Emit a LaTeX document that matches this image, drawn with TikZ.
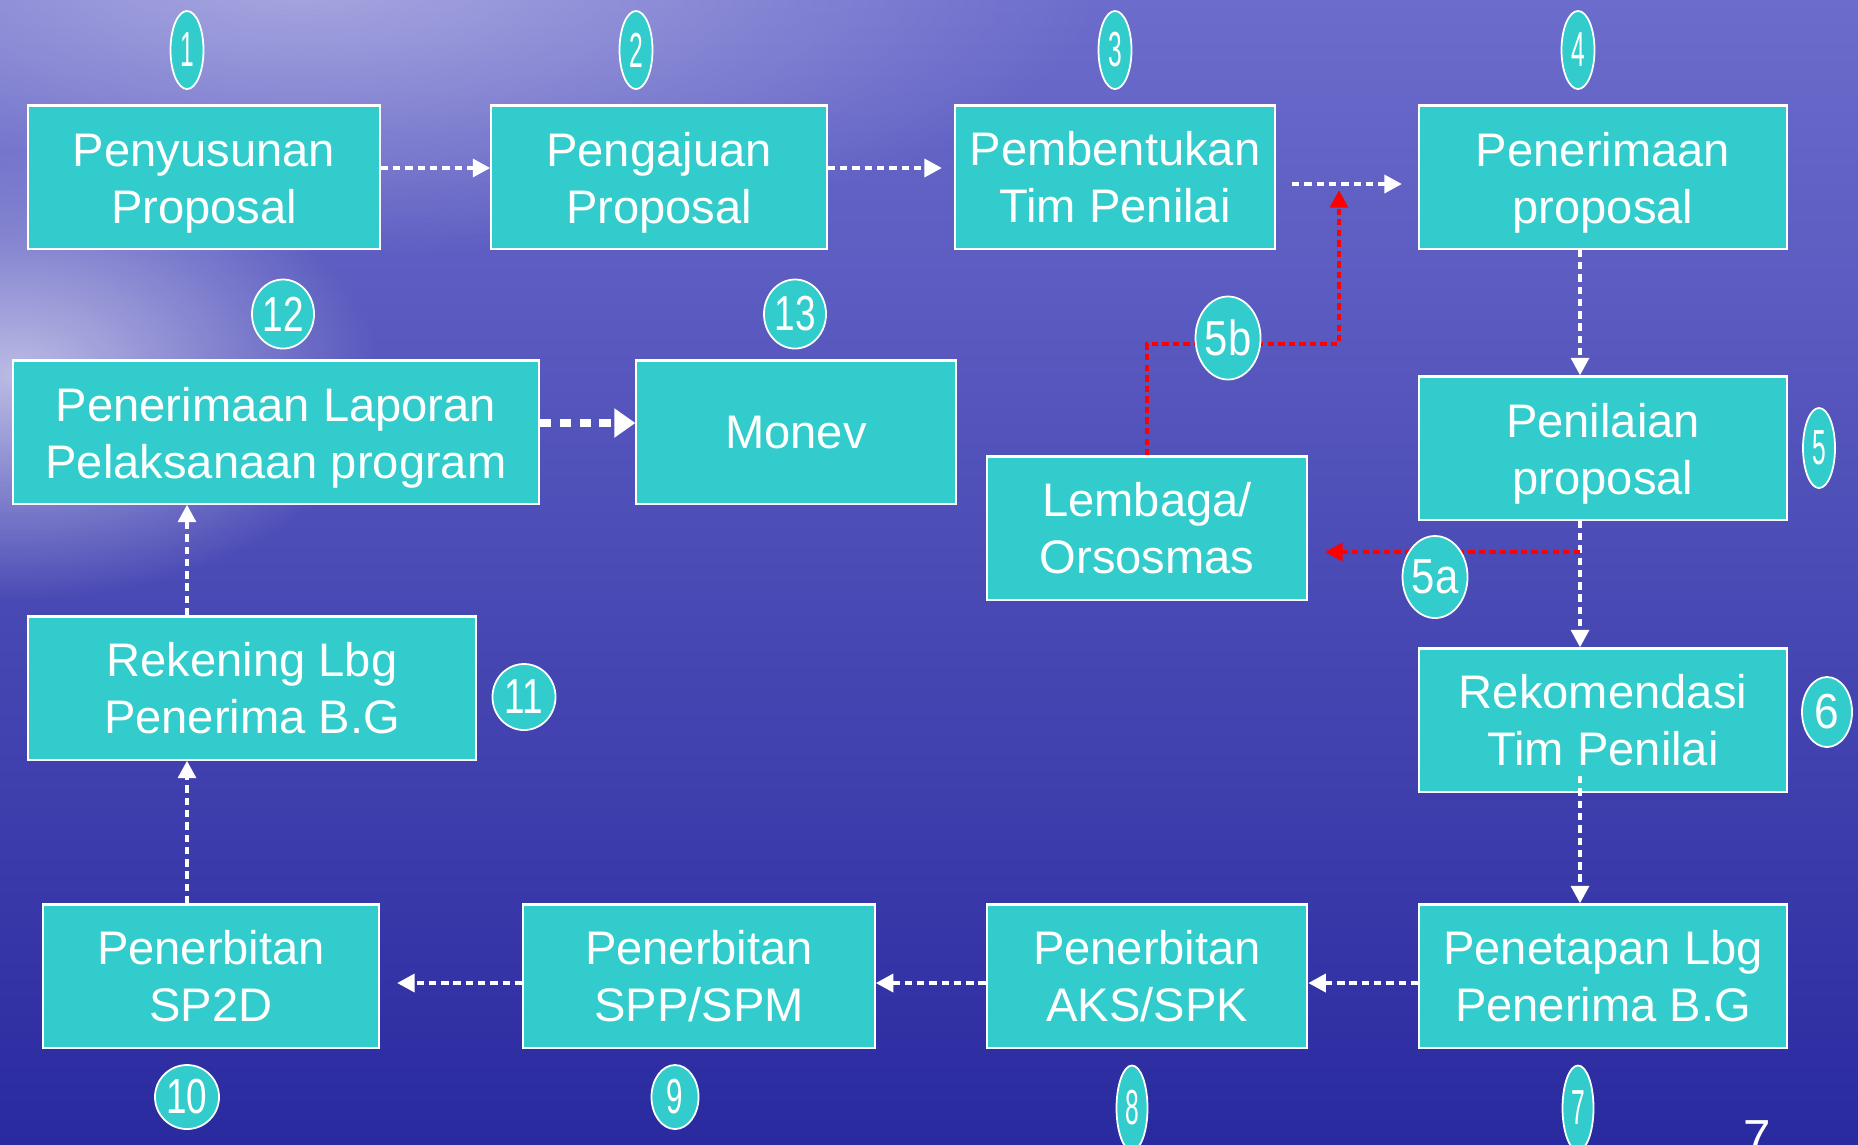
\documentclass[tikz,border=0pt]{standalone}
\usepackage{fontspec}
\usepackage{graphicx}
\setmainfont{Liberation Sans}
\usetikzlibrary{shapes.geometric,arrows.meta,fadings}

\definecolor{boxteal}{RGB}{51,204,204}
\definecolor{bgtop}{RGB}{108,108,204}
\definecolor{bgmid}{RGB}{66,66,182}
\definecolor{bgbot}{RGB}{42,42,160}
\definecolor{flowred}{RGB}{255,0,0}

\tikzfading[name=glowfade, inner color=transparent!0, outer color=transparent!100]
\newcommand{\numtxt}[2]{\makebox[0pt]{\scalebox{#1}[1]{#2}}}
\newcommand{\toppad}{\rule{0pt}{13pt}}

\begin{document}
\begin{tikzpicture}[x=0.01cm, y=-0.01cm, >={Triangle[width=5pt,length=5pt]}]
        \tikzstyle{block} = [draw=white, line width=0.6pt, fill=boxteal, text=white, align=center,
          inner sep=0pt, minimum height=1.43cm, font=\fontsize{13.4}{16.3}\selectfont]
        \tikzstyle{num} = [ellipse, draw=white, line width=0.5pt, fill=boxteal, text=white,
          inner sep=0pt, font=\fontsize{14}{14}\selectfont]
        \tikzstyle{flow} = [draw=white, line width=1.3pt, dash pattern=on 2.1pt off 1.4pt, ->]
        \tikzstyle{redflow} = [flow, draw=flowred, line width=1.4pt, dash pattern=on 1.8pt off 1.2pt]

        % background
        \useasboundingbox (0,0) rectangle (1858,1144);
        \shade[top color=bgtop, middle color=bgmid, bottom color=bgbot] (0,0) rectangle (1858,1144);
        \fill[white, opacity=0.4, path fading=glowfade] (-500,-300) rectangle (1100,260);
        \fill[white, opacity=0.6, path fading=glowfade] (-350,150) rectangle (380,600);

        % boxes
        \node[block, minimum width=3.51cm] (penyusunan) at (204,177) {\toppad Penyusunan\\Proposal};
        \node[block, minimum width=3.35cm] (pengajuan) at (659,177) {\toppad Pengajuan\\Proposal};
        \node[block, minimum width=3.20cm] (pembentukan) at (1115,177) {Pembentukan\\Tim Penilai};
        \node[block, minimum width=3.67cm] (penerimaan) at (1603,177) {\toppad Penerimaan\\proposal};
        \node[block, minimum width=3.67cm] (penilaian) at (1603,448) {\toppad Penilaian\\proposal};
        \node[block, minimum width=3.20cm] (lembaga) at (1147,528) {Lembaga/\\Orsosmas};
        \node[block, minimum width=3.67cm] (rekomendasi) at (1603,720) {Rekomendasi\\Tim Penilai};
        \node[block, minimum width=3.67cm] (penetapan) at (1603,976) {Penetapan Lbg\\Penerima B.G};
        \node[block, minimum width=3.20cm] (aks) at (1147,976) {Penerbitan\\AKS/SPK};
        \node[block, minimum width=3.51cm] (spp) at (699,976) {Penerbitan\\SPP/SPM};
        \node[block, minimum width=3.35cm] (sp2d) at (211,976) {Penerbitan\\SP2D};
        \node[block, minimum width=4.47cm] (rekening) at (252,688) {Rekening Lbg\\Penerima B.G};
        \node[block, minimum width=5.26cm] (laporan) at (276,432) {\toppad Penerimaan Laporan\\Pelaksanaan program};
        \node[block, minimum width=3.19cm] (monev) at (796,432) {Monev};

        % helper lines
        \coordinate (topline) at (0,168);
        \coordinate (t3) at (942,168);
        \coordinate (s4) at (1292,184);
        \coordinate (t4) at (1402,184);
        \coordinate (vline) at (1580,0);
        \coordinate (s7) at (1580,776);
        \coordinate (hline) at (0,983);
        \coordinate (t10) at (397,983);
        \coordinate (lline) at (187,0);
        \coordinate (monline) at (0,423);
        \coordinate (bend) at (1339,344);
        \coordinate (redtip) at (1339,190);
        \coordinate (split) at (1580,552);
        \coordinate (redtipa) at (1325,552);

        \draw[flow] (penyusunan.east |- topline) -- (pengajuan.west |- topline);
        \draw[flow] (pengajuan.east |- topline) -- (t3);
        \draw[flow] (s4) -- (t4);
        \draw[flow] (penerimaan.south -| vline) -- (penilaian.north -| vline);
        \draw[flow] (penilaian.south -| vline) -- (rekomendasi.north -| vline);
        \draw[flow] (s7) -- (penetapan.north -| vline);
        \draw[flow] (penetapan.west |- hline) -- (aks.east |- hline);
        \draw[flow] (aks.west |- hline) -- (spp.east |- hline);
        \draw[flow] (spp.west |- hline) -- (t10);
        \draw[flow] (sp2d.north -| lline) -- (rekening.south -| lline);
        \draw[flow] (rekening.north -| lline) -- (laporan.south -| lline);
        \draw[flow, line width=2.3pt, dash pattern=on 3.2pt off 2.4pt, >={Triangle[width=8pt,length=6pt]}]
          (laporan.east |- monline) -- (monev.west |- monline);

        \draw[redflow] (lembaga.north) |- (bend) -- (redtip);
        \draw[redflow] (split) -- (redtipa);

        % step numbers
        \node[num, minimum width=0.33cm, minimum height=0.78cm] (n1) at (187,50) {\numtxt{0.5}{1}};
        \node[num, minimum width=0.33cm, minimum height=0.78cm] (n2) at (636,50) {\numtxt{0.5}{2}};
        \node[num, minimum width=0.33cm, minimum height=0.78cm] (n3) at (1115,50) {\numtxt{0.5}{3}};
        \node[num, minimum width=0.33cm, minimum height=0.78cm] (n4) at (1578,50) {\numtxt{0.5}{4}};
        \node[num, minimum width=0.32cm, minimum height=0.80cm] (n5) at (1819,448) {\numtxt{0.5}{5}};
        \node[num, minimum width=0.65cm, minimum height=0.83cm] (n5b) at (1228,338) {\numtxt{0.85}{5b}};
        \node[num, minimum width=0.65cm, minimum height=0.82cm] (n5a) at (1435,577) {\numtxt{0.85}{5a}};
        \node[num, minimum width=0.50cm, minimum height=0.70cm] (n6) at (1827,712) {\numtxt{0.9}{6}};
        \node[num, minimum width=0.31cm, minimum height=0.85cm] (n7) at (1578,1108) {\numtxt{0.5}{7}};
        \node[num, minimum width=0.31cm, minimum height=0.85cm] (n8) at (1132,1108) {\numtxt{0.5}{8}};
        \node[num, minimum width=0.47cm, minimum height=0.64cm] (n9) at (675,1097) {\numtxt{0.6}{9}};
        \node[num, minimum width=0.64cm, minimum height=0.64cm] (n10) at (187,1097) {\numtxt{0.75}{10}};
        \node[num, minimum width=0.63cm, minimum height=0.66cm] (n11) at (524,697) {\numtxt{0.75}{11}};
        \node[num, minimum width=0.62cm, minimum height=0.69cm] (n12) at (283,314) {\numtxt{0.75}{12}};
        \node[num, minimum width=0.62cm, minimum height=0.69cm] (n13) at (795,314) {\numtxt{0.75}{13}};

        \node[text=white, font=\fontsize{14}{14}\selectfont, anchor=north, inner sep=0pt] (pagenum) at (1757,1120) {7};
\end{tikzpicture}
\end{document}
